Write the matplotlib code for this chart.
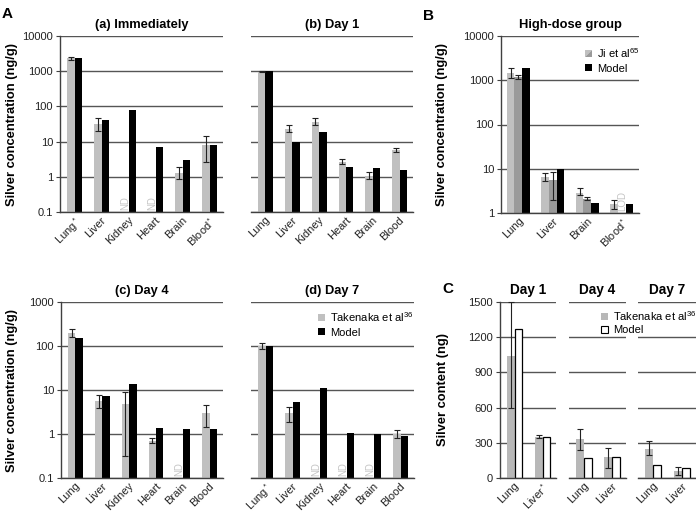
import numpy as np
import matplotlib
matplotlib.use("Agg")
import matplotlib.pyplot as plt
from matplotlib.patches import Patch, Polygon
from matplotlib.legend_handler import HandlerBase

plt.rcParams['font.family'] = ['Liberation Sans', 'DejaVu Sans']
plt.rcParams['mathtext.fontset'] = 'custom'
plt.rcParams['mathtext.rm'] = 'Liberation Sans'
plt.rcParams['mathtext.it'] = 'Liberation Sans:italic'
plt.rcParams['mathtext.bf'] = 'Liberation Sans:bold'

nan = np.nan

# ---------------- data ----------------
labels_a = ['Lung$^*$', 'Liver', 'Kidney', 'Heart', 'Brain', 'Blood$^*$']
tak_a = [2300, 31, nan, nan, 1.27, 7.9]
tak_a_lo = [2100, 19.5, nan, nan, 0.86, 2.6]
tak_a_hi = [2500, 46, nan, nan, 1.88, 14.7]
mod_a = [2300, 41, 78, 7.2, 3.0, 8.0]

labels_b = ['Lung', 'Liver', 'Kidney', 'Heart', 'Brain', 'Blood']
tak_b = [960, 23, 36.6, 2.56, 1.05, 5.7]
tak_b_lo = [930, 18.6, 30, 2.3, 0.88, 5.1]
tak_b_hi = [990, 29, 46.6, 3.2, 1.33, 6.7]
mod_b = [1000, 10, 18.2, 1.88, 1.8, 1.6]

labels_c = ['Lung', 'Liver', 'Kidney', 'Heart', 'Brain', 'Blood']
tak_c = [197, 5.6, 4.7, 0.71, nan, 2.95]
tak_c_lo = [157, 3.8, 0.31, 0.61, nan, 1.42]
tak_c_hi = [248, 7.7, 9.2, 0.80, nan, 4.5]
mod_c = [149, 7.2, 13.7, 1.39, 1.3, 1.28]

labels_d = ['Lung$^*$', 'Liver', 'Kidney', 'Heart', 'Brain', 'Blood']
tak_d = [98, 3.05, nan, nan, nan, 1.0]
tak_d_lo = [85, 1.9, nan, nan, nan, 0.83]
tak_d_hi = [119, 4.2, nan, nan, nan, 1.21]
mod_d = [100, 5.4, 10.9, 1.07, 1.0, 0.9]

labels_B = ['Lung', 'Liver', 'Brain', 'Blood$^*$']
ji1 = [1490, 6.45, 2.9, 1.57]
ji1_lo = [1130, 5.2, 2.5, 1.23]
ji1_hi = [1870, 8.1, 3.6, 1.94]
ji2 = [1200, 5.6, 2.1, nan]
ji2_lo = [1090, 2.0, 2.0, nan]
ji2_hi = [1345, 8.4, 2.3, nan]
mod_B = [1940, 10, 1.72, 1.57]

days_C = ['Day 1', 'Day 4', 'Day 7']
labels_C = [['Lung', 'Liver$^*$'], ['Lung', 'Liver'], ['Lung', 'Liver']]
tak_C = [[1042, 347], [330, 179], [250, 60]]
tak_C_lo = [[595, 339], [239, 83], [196, 23]]
tak_C_hi = [[1500, 370], [421, 259], [313, 94]]
mod_C = [[1267, 350], [171, 179], [111, 85]]

# ---------------- style ----------------
LIGHT = '#c0c0c0'
MID = '#9a9a9a'
CGREY = '#b8b8b8'
GRID = '#555555'
TXT = '#222222'
ND_COL = '#c4c4c4'
FS = 8
TFS = 9.3

W, H = 696, 517
fig = plt.figure(figsize=(W / 100, H / 100), dpi=100)


def px_axes(l, r, t, b):
    ax = fig.add_axes([l / W, 1 - b / H, (r - l) / W, (b - t) / H])
    ax.set_facecolor('none')
    return ax


def style_axes(ax, left_spine=True):
    for s in ['top', 'right']:
        ax.spines[s].set_visible(False)
    ax.spines['left'].set_visible(left_spine)
    ax.spines['left'].set_color('#404040')
    ax.spines['bottom'].set_color('#404040')
    ax.spines['left'].set_linewidth(1.0)
    ax.spines['bottom'].set_linewidth(1.0)
    ax.yaxis.grid(True, color=GRID, lw=1.0)
    ax.set_axisbelow(True)
    ax.tick_params(axis='x', length=0, pad=2, labelsize=FS, colors=TXT)
    if left_spine:
        ax.tick_params(axis='y', length=3, width=0.8, colors='#404040',
                       labelsize=FS, labelcolor=TXT, pad=2)
    else:
        ax.tick_params(axis='y', length=0, labelleft=False)
    ax.tick_params(axis='y', which='minor', length=0)


def log_ticks(ax, lo, hi):
    ticks = [t for t in [0.1, 1, 10, 100, 1000, 10000] if lo <= t <= hi]
    ax.set_yticks(ticks)
    ax.set_yticklabels([('%g' % t) for t in ticks])
    ax.yaxis.set_minor_locator(matplotlib.ticker.NullLocator())


def err(vals, lo, hi):
    v = np.array(vals, float)
    return np.vstack([v - np.array(lo, float), np.array(hi, float) - v])


def two_bar_log(ax, labels, tak, lo, hi, mod, ybot, ytop, title, w=0.275):
    n = len(labels)
    x = np.arange(n)
    tak = np.array(tak, float)
    mod = np.array(mod, float)
    ax.set_yscale('log')
    ax.bar(x - w / 2 + 0.02, tak - ybot, bottom=ybot, width=w, color=LIGHT, lw=0)
    ax.bar(x + w / 2 + 0.02, mod - ybot, bottom=ybot, width=w, color='black', lw=0)
    ax.errorbar(x - w / 2 + 0.02, tak, yerr=err(tak, lo, hi), fmt='none',
                ecolor='#222222', elinewidth=0.8, capsize=2.5, capthick=0.8)
    for i in range(n):
        if np.isnan(tak[i]):
            ax.text(x[i] - w / 2 + 0.02, ybot * 1.12, 'ND', rotation=90, ha='center',
                    va='bottom', fontsize=7, color=ND_COL)
    ax.set_ylim(ybot, ytop)
    ax.set_xlim(-0.52, n - 0.48)
    ax.set_xticks(x)
    ax.set_xticklabels(labels, rotation=45, ha='right', rotation_mode='anchor')
    log_ticks(ax, ybot, ytop)
    ax.set_title(title, fontsize=TFS, fontweight='bold', pad=6)


# (a)
ax_a = px_axes(60, 223, 36, 212)
style_axes(ax_a, True)
two_bar_log(ax_a, labels_a, tak_a, tak_a_lo, tak_a_hi, mod_a, 0.1, 10000, '(a) Immediately')

# (b)
ax_b = px_axes(251, 413, 36, 212)
style_axes(ax_b, False)
two_bar_log(ax_b, labels_b, tak_b, tak_b_lo, tak_b_hi, mod_b, 0.1, 10000, '(b) Day 1')

# (c)
ax_c = px_axes(61, 223, 302, 478)
style_axes(ax_c, True)
two_bar_log(ax_c, labels_c, tak_c, tak_c_lo, tak_c_hi, mod_c, 0.1, 1000, '(c) Day 4')

# (d)
ax_d = px_axes(251, 414, 302, 478)
style_axes(ax_d, False)
two_bar_log(ax_d, labels_d, tak_d, tak_d_lo, tak_d_hi, mod_d, 0.1, 1000, '(d) Day 7')
ax_d.legend(handles=[Patch(color=LIGHT, lw=0), Patch(color='black', lw=0)],
            labels=['Takenaka et al$^{36}$', 'Model'], loc='upper left',
            bbox_to_anchor=(318 / W, 1 - 310 / H), bbox_transform=fig.transFigure,
            frameon=False, fontsize=FS, handlelength=0.6, handleheight=0.6,
            handletextpad=0.5, labelspacing=0.35, borderpad=0, borderaxespad=0)

# B high-dose
ax_B = px_axes(501, 639, 36, 213)
style_axes(ax_B, True)
ax_B.set_yscale('log')
xB = np.arange(len(labels_B))
wB = 0.222
ybB = 1.0
for vals, lo, hi, off, col in [(ji1, ji1_lo, ji1_hi, -wB, LIGHT), (ji2, ji2_lo, ji2_hi, 0, MID)]:
    v = np.array(vals, float)
    ax_B.bar(xB + off, v - ybB, bottom=ybB, width=wB, color=col, lw=0)
    ax_B.errorbar(xB + off, v, yerr=err(v, lo, hi), fmt='none', ecolor='#222222',
                  elinewidth=0.8, capsize=2.5, capthick=0.8)
ax_B.bar(xB + wB, np.array(mod_B, float) - ybB, bottom=ybB, width=wB, color='black', lw=0)
for i in range(len(labels_B)):
    if np.isnan(ji2[i]):
        ax_B.text(xB[i], ybB * 1.1, 'LOD', rotation=90, ha='center', va='bottom',
                  fontsize=7, color=ND_COL)
ax_B.set_ylim(1, 10000)
ax_B.set_xlim(-0.5, len(labels_B) - 0.5)
ax_B.set_xticks(xB)
ax_B.set_xticklabels(labels_B, rotation=45, ha='right', rotation_mode='anchor')
log_ticks(ax_B, 1, 10000)
ax_B.set_title('High-dose group', fontsize=TFS, fontweight='bold', pad=6)


class SplitHandler(HandlerBase):
    def create_artists(self, legend, orig_handle, xdescent, ydescent, width, height,
                       fontsize, trans):
        x0, y0 = -xdescent, -ydescent
        t1 = Polygon([[x0, y0], [x0, y0 + height], [x0 + width, y0 + height]],
                     closed=True, fc=LIGHT, ec='none', transform=trans)
        t2 = Polygon([[x0, y0], [x0 + width, y0], [x0 + width, y0 + height]],
                     closed=True, fc=MID, ec='none', transform=trans)
        return [t1, t2]


split_handle = Patch(color=LIGHT)
ax_B.legend(handles=[split_handle, Patch(color='black', lw=0)],
            labels=['Ji et al$^{65}$', 'Model'], loc='upper left',
            bbox_to_anchor=(585 / W, 1 - 46 / H), bbox_transform=fig.transFigure,
            handler_map={split_handle: SplitHandler()},
            frameon=False, fontsize=FS, handlelength=0.6, handleheight=0.6,
            handletextpad=0.5, labelspacing=0.35, borderpad=0, borderaxespad=0)

# C silver content
C_bounds = [(500, 556), (569, 626), (638, 696)]
wC = 0.28
for k, (l, r) in enumerate(C_bounds):
    ax = px_axes(l, r, 302, 478)
    style_axes(ax, k == 0)
    xc = np.arange(2)
    t = np.array(tak_C[k], float)
    m = np.array(mod_C[k], float)
    ax.bar(xc - wC / 2 + 0.02, t, width=wC, color=CGREY, lw=0)
    ax.bar(xc + wC / 2 + 0.02, m, width=wC, color='white', edgecolor='black', lw=0.9)
    ax.errorbar(xc - wC / 2 + 0.02, t, yerr=err(t, tak_C_lo[k], tak_C_hi[k]), fmt='none',
                ecolor='#222222', elinewidth=0.8, capsize=2.5, capthick=0.8, clip_on=False)
    ax.set_ylim(0, 1500)
    ax.set_yticks([0, 300, 600, 900, 1200, 1500])
    ax.set_xlim(-0.5, 1.5)
    ax.set_xticks(xc)
    ax.set_xticklabels(labels_C[k], rotation=45, ha='right', rotation_mode='anchor')
    ax.set_title(days_C[k], fontsize=TFS + 0.5, fontweight='bold', pad=6)

legC = fig.legend(handles=[Patch(color=CGREY, lw=0),
                           Patch(facecolor='white', edgecolor='black', lw=0.8)],
                  labels=['Takenaka et al$^{36}$', 'Model'], loc='upper left',
                  bbox_to_anchor=(601 / W, 1 - 309 / H), bbox_transform=fig.transFigure,
                  frameon=False, fontsize=FS, handlelength=0.6, handleheight=0.6,
                  handletextpad=0.5, labelspacing=0.2, borderpad=0, borderaxespad=0)
legC.set_zorder(10)

# y labels
fig.text(12 / W, 1 - 124 / H, 'Silver concentration (ng/g)', rotation=90, ha='center',
         va='center', fontsize=TFS, fontweight='bold')
fig.text(12 / W, 1 - 390 / H, 'Silver concentration (ng/g)', rotation=90, ha='center',
         va='center', fontsize=TFS, fontweight='bold')
fig.text(442 / W, 1 - 124 / H, 'Silver concentration (ng/g)', rotation=90, ha='center',
         va='center', fontsize=TFS, fontweight='bold')
fig.text(443 / W, 1 - 390 / H, 'Silver content (ng)', rotation=90, ha='center',
         va='center', fontsize=TFS, fontweight='bold')

# panel letters
fig.text(2 / W, 1 - 13.5 / H, 'A', ha='left', va='center', fontsize=11, fontweight='bold')
fig.text(423 / W, 1 - 16 / H, 'B', ha='left', va='center', fontsize=11, fontweight='bold')
fig.text(442 / W, 1 - 289 / H, 'C', ha='left', va='center', fontsize=11, fontweight='bold')

fig.savefig('out.png', dpi=100)
